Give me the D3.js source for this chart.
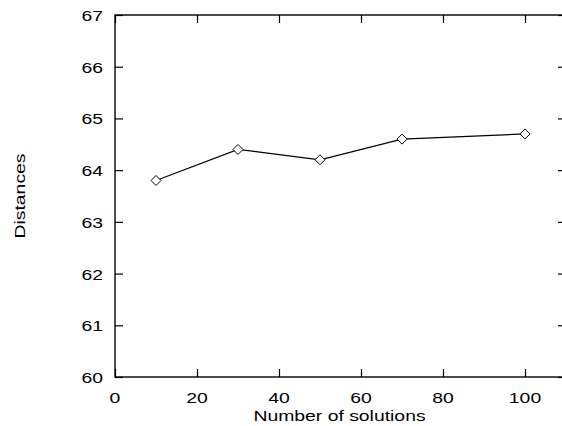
<!DOCTYPE html>
<html><head><meta charset="utf-8">
<script src="https://cdn.jsdelivr.net/npm/d3@7"></script>
<style>body{margin:0;background:#fff}svg{display:block}text{font-family:"Liberation Sans",Arial,sans-serif;fill:#000}</style>
</head><body>
<svg id="c" width="562" height="426"></svg>
<script>
const xs = [10, 30, 50, 70, 100];
const distances = [63.8, 64.4, 64.2, 64.6, 64.7];
const xTicks = [0, 20, 40, 60, 80, 100];
const yTicks = [60, 61, 62, 63, 64, 65, 66, 67];

const svg = d3.select("#c");
const L = 115, R = 566, T = 15, B = 377;
const x = d3.scaleLinear().domain([0, 110]).range([L, R]);
const y = d3.scaleLinear().domain([60, 67]).range([B, T]);
const tl = 8, fs = 15.5, sx = 1.25;

const g = svg.append("g");
g.append("rect").attr("x", L).attr("y", T).attr("width", R - L).attr("height", B - T)
  .attr("fill", "none").attr("stroke", "#000").attr("stroke-width", 1.4);

function ticks(axis, tr) {
  const a = g.append("g").attr("transform", tr).call(axis.tickSizeInner(-tl).tickSizeOuter(0).tickFormat(""));
  a.select(".domain").remove();
  a.selectAll("line").attr("stroke", "#000").attr("stroke-width", 1.2);
}
ticks(d3.axisBottom(x).tickValues(xTicks), `translate(0,${B})`);
ticks(d3.axisTop(x).tickValues(xTicks), `translate(0,${T})`);
ticks(d3.axisLeft(y).tickValues(yTicks), `translate(${L},0)`);
ticks(d3.axisRight(y).tickValues(yTicks), `translate(${R},0)`);

// tick labels (horizontally stretched like the original)
svg.append("g").selectAll("text").data(xTicks).join("text")
  .attr("transform", d => `translate(${x(d)},403) scale(${sx},1)`)
  .attr("text-anchor", "middle").attr("font-size", fs).text(d => d);
svg.append("g").selectAll("text").data(yTicks).join("text")
  .attr("transform", d => `translate(103,${y(d) + 6}) scale(${sx},1)`)
  .attr("text-anchor", "end").attr("font-size", fs).text(d => d);

// axis titles
svg.append("text").attr("transform", `translate(${(L + R) / 2 - 1},420.5) scale(${sx},1)`)
  .attr("text-anchor", "middle").attr("font-size", fs).text("Number of solutions");
svg.append("text").attr("transform", `translate(25,${(T + B) / 2}) rotate(-90) scale(${sx},1)`)
  .attr("text-anchor", "middle").attr("font-size", fs).text("Distances");

// line
const data = xs.map((d, i) => ({x: d, y: distances[i]}));
svg.append("path").datum(data)
  .attr("d", d3.line().x(d => x(d.x)).y(d => y(d.y)))
  .attr("fill", "none").attr("stroke", "#000").attr("stroke-width", 1.2);
const s = 5;
svg.selectAll("path.m").data(data).join("path").attr("class", "m")
  .attr("d", d => `M${x(d.x)},${y(d.y) - s}L${x(d.x) + s},${y(d.y)}L${x(d.x)},${y(d.y) + s}L${x(d.x) - s},${y(d.y)}Z`)
  .attr("fill", "#fff").attr("stroke", "#000").attr("stroke-width", 1);
</script>
</body></html>
